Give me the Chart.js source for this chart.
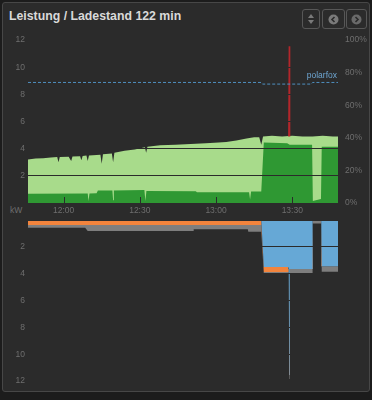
<!DOCTYPE html>
<html><head><meta charset="utf-8">
<script src="https://cdn.jsdelivr.net/npm/chart.js@4.4.1/dist/chart.umd.min.js"></script>
<style>
html,body{margin:0;padding:0;background:#1c1c1c;width:372px;height:400px;overflow:hidden;font-family:"Liberation Sans",Arial,sans-serif;}
#panel{position:absolute;left:2px;top:2px;width:368px;height:390px;border:1px solid #474747;border-radius:3px;background:#2b2b2b;box-sizing:border-box;}
#title{position:absolute;left:9px;top:9px;font-size:12.3px;font-weight:bold;color:#d9d9d9;white-space:nowrap;}
.btn{position:absolute;top:9px;height:20px;border:1px solid #575757;border-radius:3px;box-sizing:border-box;display:flex;align-items:center;justify-content:center;}
#kw{position:absolute;left:10px;top:205px;font-size:8.5px;color:#6e6e6e;}
#c1wrap{position:absolute;left:0;top:28px;width:372px;height:194px;}
#c2wrap{position:absolute;left:0;top:212px;width:372px;height:178px;}
</style></head>
<body>
<div id="panel"></div>
<div id="title">Leistung / Ladestand 122 min</div>
<div class="btn" style="left:302px;width:18px;"><svg width="8" height="12" viewBox="0 0 8 12"><path d="M4 1 L7 5 L1 5Z M4 11 L7 7 L1 7Z" fill="#7a7a7a"/></svg></div>
<div class="btn" style="left:322px;width:23px;"><svg width="11" height="11" viewBox="0 0 11 11"><circle cx="5.5" cy="5.5" r="5" fill="#7a7a7a"/><path d="M6.5 3 L4 5.5 L6.5 8" stroke="#2b2b2b" stroke-width="1.6" fill="none"/></svg></div>
<div class="btn" style="left:346px;width:21px;"><svg width="11" height="11" viewBox="0 0 11 11"><circle cx="5.5" cy="5.5" r="5" fill="#6a6a6a"/><path d="M4.5 3 L7 5.5 L4.5 8" stroke="#2b2b2b" stroke-width="1.6" fill="none"/></svg></div>
<div id="kw">kW</div>
<div id="c1wrap"><canvas id="c1" width="372" height="194"></canvas></div>
<div id="c2wrap"><canvas id="c2" width="372" height="178"></canvas></div>
<script>
// minutes since 11:46
const startMinute = 11*60 + 46;
const xTickMinutes = [14, 44, 74, 104];

const lightT  = [0,3,6,9,11.5,12,12.5,16,17,17.5,20.5,21,21.5,23,23.5,24,28.5,29,29.5,33,33.5,34,38,42,46,46.5,47,52,58,64,70,75,78,82,86,89,91,91.8,92.5,96,100,104,108,112,116,120,122];
const lightKw = [3.2,3.28,3.3,3.35,3.38,3.0,3.38,3.4,3.1,3.42,3.45,3.15,3.47,3.5,3.1,3.5,3.55,2.9,3.6,3.65,3.0,3.7,3.85,3.95,4.1,3.7,4.15,4.25,4.3,4.35,4.4,4.45,4.5,4.6,4.75,4.85,4.85,4.3,4.9,4.95,4.9,4.95,4.9,4.9,4.95,4.9,4.9];

const darkT  = [0,23.5,23.8,24.2,27,27.5,33.2,33.5,33.8,45.8,46.2,46.6,66,66.5,87,87.4,87.8,91.8,92.8,102,103,111.8,112.1,115.3,115.6,122];
const darkKw = [0.68,0.7,0.15,0.7,0.72,0.92,0.92,0.2,0.93,0.95,0.15,0.88,0.86,0.8,0.8,0.25,0.85,0.85,4.45,4.4,4.3,4.3,0.15,0.3,4.15,4.15];

const spikeT  = [102.6,102.8,103.0];
const spikeKw = [4.9,11.55,4.9];

const socT   = [0,91.8,92.3,111.5,112,122];
const socPct = [74,74,73,73,74,74];

const botT     = [0,22.5,23.5,65,65.2,86.5,86.7,91.8,92.8,102.4,102.6,102.8,103.0,111.8,112.0,115.4,115.6,122];
const blueKw   = [0,0,0,0,0,0,0,0,3.5,3.5,3.65,11.55,3.65,3.65,0,0,3.45,3.45];
const orangeKw = [0.37,0.37,0.37,0.37,0.37,0.37,0.37,0.37,0.37,0.37,0,0,0,0,0,0,0,0];
const grayKw   = [0.2,0.2,0.45,0.45,0.32,0.32,0.5,0.5,0.15,0.15,0.3,0.3,0.3,0.3,0.25,0.25,0.4,0.4];

const pts = (xs, ys) => xs.map((x,i)=>({x:x, y:ys[i]}));
const fmtTime = v => { const m = startMinute + v; const h = Math.floor(m/60); const mm = m%60; return h + ':' + String(mm).padStart(2,'0'); };

const BG = '#2b2b2b';
const TICK = '#6e6e6e';
const FONT = {family:'"Liberation Sans", Arial, sans-serif', size:8.5};

const tickMarks = {
  id:'tickMarks',
  afterDraw(chart){
    const xs = chart.scales.x, a = chart.chartArea, ctx = chart.ctx;
    ctx.save(); ctx.strokeStyle = BG; ctx.lineWidth = 1;
    xTickMinutes.forEach(v=>{ const px = Math.round(xs.getPixelForValue(v))+0.5; ctx.beginPath(); ctx.moveTo(px, a.bottom-6); ctx.lineTo(px, a.bottom); ctx.stroke(); });
    ctx.restore();
  }
};
const socLabel = {
  id:'socLabel',
  afterDatasetsDraw(chart){
    const ds = chart.data.datasets[0];
    const last = ds.data[ds.data.length-1];
    const x = chart.scales.x.getPixelForValue(last.x);
    const y = chart.scales.y1.getPixelForValue(last.y);
    const ctx = chart.ctx; ctx.save();
    ctx.font = '8.5px "Liberation Sans", Arial, sans-serif';
    ctx.fillStyle = '#6ea6d2'; ctx.textAlign = 'right'; ctx.textBaseline = 'bottom';
    ctx.fillText('polarfox', x-1, y-3);
    ctx.restore();
  }
};

new Chart(document.getElementById('c1'), {
  type:'line',
  data:{ datasets:[
    {data:pts(socT, socPct), yAxisID:'y1', borderColor:'#4f8fbf', borderWidth:1, borderDash:[3,2], pointRadius:0, fill:false},
    {data:pts(spikeT, spikeKw), yAxisID:'y', borderColor:'#b3262b', backgroundColor:'#b3262b', borderWidth:1.2, pointRadius:0, fill:false},
    {data:pts(darkT, darkKw), yAxisID:'y', borderWidth:0, backgroundColor:'#2f9833', pointRadius:0, fill:'origin'},
    {data:pts(lightT, lightKw), yAxisID:'y', borderWidth:0, backgroundColor:'#a8db8b', pointRadius:0, fill:'origin'}
  ]},
  options:{
    responsive:false, animation:false, events:[],
    layout:{padding:{top:6, bottom:0, left:0, right:0}},
    plugins:{legend:{display:false}, tooltip:{enabled:false}},
    elements:{line:{tension:0}},
    scales:{
      x:{type:'linear', min:0, max:122, grid:{display:false, drawTicks:false}, border:{display:false},
         afterBuildTicks:s=>{ s.ticks = xTickMinutes.map(v=>({value:v})); },
         afterFit:s=>{ s.height = 19; },
         ticks:{color:TICK, font:FONT, padding:3, maxRotation:0, autoSkip:false, callback:v=>fmtTime(v)}},
      y:{position:'left', min:0, max:12, border:{display:false},
         grid:{color:BG, lineWidth:1, z:1, drawTicks:false},
         afterFit:s=>{ s.width = 28; },
         ticks:{stepSize:2, color:TICK, font:FONT, padding:3, callback:v=> v===0 ? '' : v}},
      y1:{position:'right', min:0, max:100, border:{display:false}, grid:{display:false, drawTicks:false},
         afterFit:s=>{ s.width = 34; },
         ticks:{stepSize:20, color:TICK, font:FONT, padding:7, callback:v=> v+'%'}}
    }
  },
  plugins:[tickMarks, socLabel]
});

new Chart(document.getElementById('c2'), {
  type:'line',
  data:{ datasets:[
    {data:pts(botT, blueKw), borderWidth:0, backgroundColor:'#66a8d6', pointRadius:0, fill:'origin'},
    {data:pts(botT, orangeKw), borderWidth:0, backgroundColor:'#f2843d', pointRadius:0, fill:'-1'},
    {data:pts(botT, grayKw), borderWidth:0, backgroundColor:'#7e7e7e', pointRadius:0, fill:'-1'}
  ]},
  options:{
    responsive:false, animation:false, events:[],
    layout:{padding:{top:1.6, bottom:9, left:0, right:34}},
    plugins:{legend:{display:false}, tooltip:{enabled:false}},
    elements:{line:{tension:0}},
    scales:{
      x:{type:'linear', min:0, max:122, display:false},
      y:{position:'left', min:0, max:12, reverse:true, stacked:true, border:{display:false},
         grid:{color:BG, lineWidth:1, z:1, drawTicks:false},
         afterFit:s=>{ s.width = 28; },
         ticks:{stepSize:2, color:TICK, font:FONT, padding:3, callback:v=> v===0 ? '' : v}}
    }
  }
});
</script>
</body></html>
